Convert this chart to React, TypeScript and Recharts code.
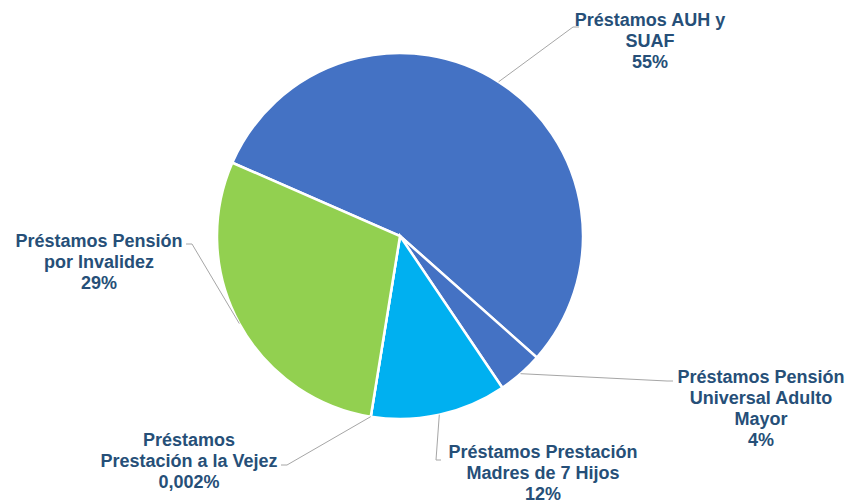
import React from 'react';
import { PieChart, Pie, Cell } from 'recharts';

const names = [
  'Préstamos AUH y\nSUAF',
  'Préstamos Pensión\nUniversal Adulto\nMayor',
  'Préstamos Prestación\nMadres de 7 Hijos',
  'Préstamos\nPrestación a la Vejez',
  'Préstamos Pensión\npor Invalidez',
];
const values = [55, 4, 12, 0.002, 29];
const colors = ['#4472C4', '#4472C4', '#00B0F0', '#FFC000', '#92D050'];

// label layout: elbow of leader line, its end, text centre x and first line y
const labelLayout = [
  { ex: 573, ey: 27, tx: 579, ty: 27, cx: 650, y0: 20 },
  { ex: 667, ey: 381, tx: 673, ty: 381, cx: 761, y0: 377 },
  { ex: 436, ey: 460, tx: 441, ty: 460, cx: 543, y0: 452 },
  { ex: 287, ey: 465, tx: 281, ty: 465, cx: 189, y0: 440 },
  { ex: 192, ey: 244, tx: 186, ty: 244, cx: 99, y0: 241 },
];

const data = names.map((name, i) => ({ name, value: values[i] }));

const RAD = Math.PI / 180;
const TEXT = '#264F78';

const renderLabel = (props: any) => {
  const { cx, cy, midAngle, outerRadius, index } = props;
  const l = labelLayout[index];
  const sx = cx + outerRadius * Math.cos(-midAngle * RAD);
  const sy = cy + outerRadius * Math.sin(-midAngle * RAD);
  const lines = [...data[index].name.split('\n'), String(values[index]).replace('.', ',') + '%'];
  return (
    <g key={`lbl-${index}`}>
      <polyline
        points={`${sx},${sy} ${l.ex},${l.ey} ${l.tx},${l.ty}`}
        fill="none"
        stroke="#A6A6A6"
        strokeWidth={1}
      />
      <text
        x={l.cx}
        y={l.y0}
        textAnchor="middle"
        fill={TEXT}
        fontFamily="'Liberation Sans', Arial, sans-serif"
        fontWeight="bold"
        fontSize={18}
      >
        {lines.map((t, i) => (
          <tspan key={i} x={l.cx} y={l.y0 + i * 21} dominantBaseline="central">
            {t}
          </tspan>
        ))}
      </text>
    </g>
  );
};

export default function App() {
  return (
    <div style={{ width: 850, height: 502, background: '#fff' }}>
      <style>{`body{margin:0}`}</style>
      <PieChart width={850} height={502} margin={{ top: 0, right: 0, bottom: 0, left: 0 }}>
        <Pie
          data={data}
          dataKey="value"
          cx={400}
          cy={236}
          outerRadius={183}
          startAngle={156.4}
          endAngle={-203.6}
          stroke="#FFFFFF"
          strokeWidth={2.5}
          label={renderLabel}
          labelLine={false}
          isAnimationActive={false}
        >
          {data.map((d, i) => (
            <Cell key={`cell-${i}`} fill={colors[i]} />
          ))}
        </Pie>
      </PieChart>
    </div>
  );
}
